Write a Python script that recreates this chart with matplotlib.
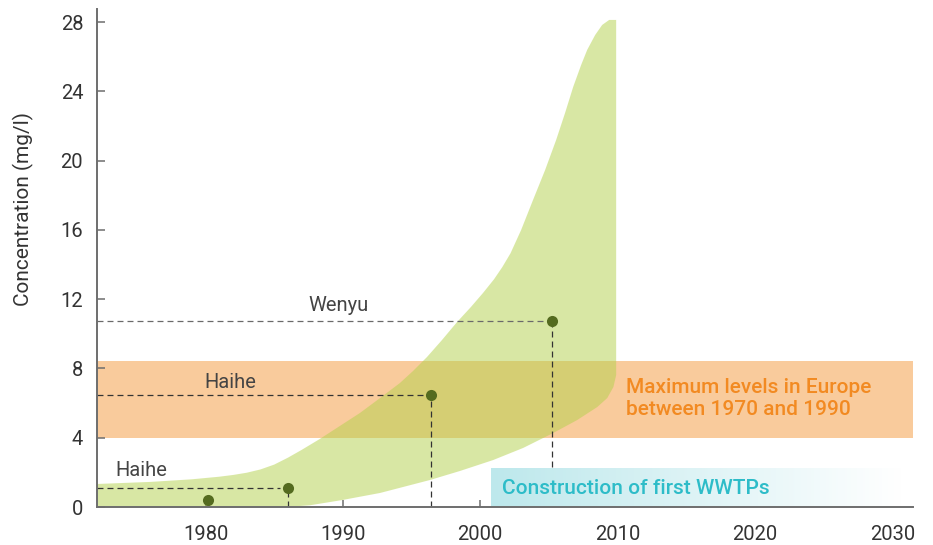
import numpy as np
import matplotlib
matplotlib.use("Agg")
import matplotlib.pyplot as plt
from matplotlib.colors import LinearSegmentedColormap

plt.rcParams["font.family"] = ["Roboto", "DejaVu Sans"]
plt.rcParams["lines.scale_dashes"] = False

# Envelope of observed concentrations (upper and lower edges)
upper_years = [1972.1, 1976.0, 1979.0, 1981.0, 1982.0, 1983.0, 1984.0, 1985.0,
               1986.0, 1987.0, 1988.32, 1991.24, 1992.70, 1994.15, 1995.10,
               1996.12, 1997.21, 1998.31, 1999.32, 2000.20, 2001.0, 2001.6,
               2002.2, 2002.97, 2003.84, 2004.72, 2005.52, 2006.17, 2006.76,
               2007.34, 2007.78, 2008.36, 2008.87, 2009.38, 2009.89]
upper_vals = [1.33, 1.45, 1.60, 1.75, 1.85, 1.98, 2.17, 2.45,
              2.85, 3.30, 3.93, 5.43, 6.29, 7.16, 7.85,
              8.66, 9.64, 10.68, 11.55, 12.36, 13.15, 13.85,
              14.65, 15.99, 17.73, 19.46, 21.19, 22.75, 24.25,
              25.52, 26.39, 27.25, 27.83, 28.12, 28.12]
lower_years = [1972.1, 1985.78, 1987.60, 1989.93, 1992.70, 1996.34, 1998.52,
               2000.93, 2003.12, 2005.30, 2007.05, 2008.51, 2009.24, 2009.69,
               2009.89]
lower_vals = [0.0, 0.0, 0.10, 0.40, 0.81, 1.56, 2.08,
              2.71, 3.41, 4.27, 5.02, 5.77, 6.29, 6.93,
              7.62]

# River measurements
point_years = [1980.2, 1986.0, 1996.4, 2005.2]
point_vals = [0.4, 1.1, 6.47, 10.74]

# Reference lines with labels: (label, year of measurement, value)
ref_labels = ["Haihe", "Haihe", "Wenyu"]
ref_years = [1986.0, 1996.4, 2005.2]
ref_vals = [1.1, 6.47, 10.74]

band_low, band_high = 4.0, 8.43
wwtp_start, wwtp_end, wwtp_height = 2000.8, 2030.6, 2.2

x_ticks = [1980, 1990, 2000, 2010, 2020, 2030]
y_ticks = [0, 4, 8, 12, 16, 20, 24, 28]

fig = plt.figure(figsize=(9.33, 5.45), dpi=100)
ax = fig.add_axes([0.104, 0.0697, 0.8746, 0.9147])
xmin, xmax = 1972.1, 2031.5
ymin, ymax = 0, 28.78

# European reference band
ax.axhspan(band_low, band_high, color="#f9cb9c", zorder=1, lw=0)

# Concentration envelope
poly_x = upper_years + lower_years[::-1]
poly_y = upper_vals + lower_vals[::-1]
ax.fill(poly_x, poly_y, color="#b3d14b", alpha=0.5, lw=0, zorder=2)

# Dashed guide lines
dash = (0, (4.3, 2.9))
h_colors = ["#333333", "#333333", "#6a6a6a"]
h_end_gap = 0.6
for lab, yr, v, c in zip(ref_labels, ref_years, ref_vals, h_colors):
    ax.plot([xmin, yr - h_end_gap], [v, v], ls=dash, color=c, lw=0.9, zorder=3)
    ax.plot([yr, yr], [0, v], ls=dash, color="#333333", lw=0.9, zorder=3)

ax.plot(point_years, point_vals, "o", color="#546b1f", ms=8, mec="none", zorder=5)

# Labels for guide lines
label_kw = dict(fontsize=14.5, color="#444444", ha="center", va="center", zorder=6)
ax.text(1975.3, 2.1, "Haihe", **label_kw)
ax.text(1981.8, 7.2, "Haihe", **label_kw)
ax.text(1989.7, 11.66, "Wenyu", **label_kw)

ax.text(2010.6, 6.27, "Maximum levels in Europe\nbetween 1970 and 1990", fontsize=15,
        color="#f28a22", ha="left", va="center", linespacing=1.25, fontweight="medium", zorder=6)

# WWTP construction bar with fading gradient
cmap = LinearSegmentedColormap.from_list("fade", ["#bde8ec", "#ffffff"])
grad = np.linspace(0, 1, 256).reshape(1, -1)
ax.imshow(grad, extent=[wwtp_start, wwtp_end, 0, wwtp_height], aspect="auto",
          cmap=cmap, zorder=4, interpolation="bicubic")
ax.text(2001.6, 1.05, "Construction of first WWTPs", fontsize=15, color="#2dbcc8",
        ha="left", va="center", fontweight="medium", zorder=6)

ax.set_xlim(xmin, xmax)
ax.set_ylim(ymin, ymax)

for s in ["top", "right"]:
    ax.spines[s].set_visible(False)
for s in ["left", "bottom"]:
    ax.spines[s].set_color("#6e6e6e")
    ax.spines[s].set_linewidth(1.4)
    ax.spines[s].set_zorder(7)

ax.set_xticks(x_ticks)
ax.set_yticks(y_ticks)
ax.tick_params(axis="y", direction="in", length=6, width=1.1, color="#6e6e6e",
               pad=10, labelsize=14.5, labelcolor="#333333")
ax.tick_params(axis="x", direction="in", length=5, width=1.1, color="#6e6e6e",
               pad=13, labelsize=14.5, labelcolor="#333333")

ax.set_ylabel("Concentration (mg/l)", fontsize=15, color="#333333")
ax.yaxis.set_label_coords(-0.077, 0.598)

fig.savefig("out.png", dpi=100)
